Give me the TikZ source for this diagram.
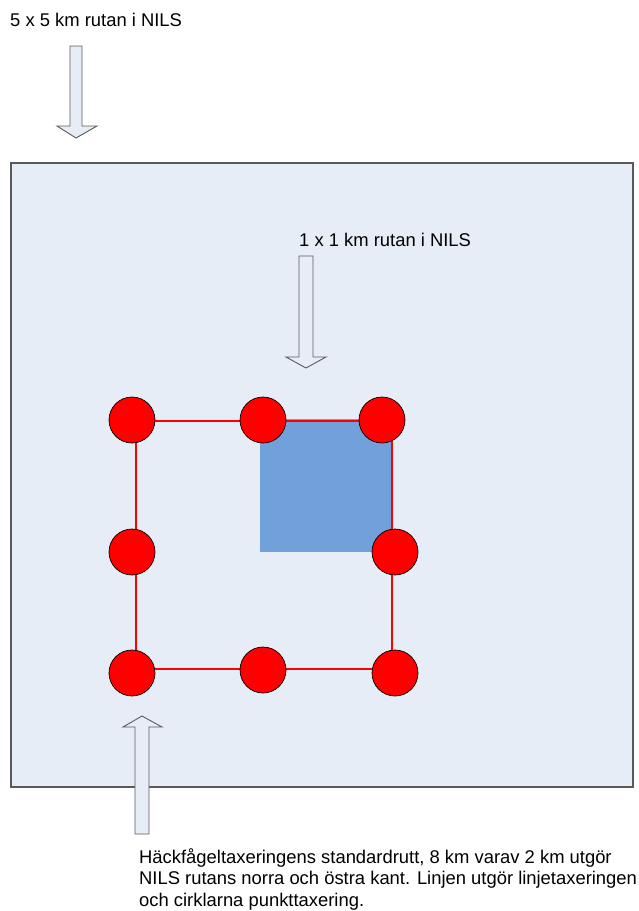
\documentclass[tikz,border=0pt]{standalone}
\usepackage{fontspec}
\setmainfont{Liberation Sans}
\usepackage{xcolor}
\definecolor{bgblue}{RGB}{231,237,247}
\definecolor{sqblue}{RGB}{114,160,218}
\definecolor{edgegray}{RGB}{90,90,90}
\tikzset{
  pil/.style={draw=edgegray,line width=0.9pt,fill=bgblue,line join=miter},
  punkt/.style={circle,draw=black,line width=0.7pt,fill=red,minimum size=46pt,inner sep=0pt},
  etikett/.style={inner sep=0pt,font=\fontsize{18.4}{21.5}\selectfont}
}
\begin{document}
\begin{tikzpicture}[x=1pt,y=-1pt]
			\useasboundingbox (0,0) rectangle (638,911);
			% 5 x 5 km ruta
			\draw[edgegray,line width=1.2pt,fill=bgblue] (11,163) rectangle (633,787);
			\fill[sqblue] (260,419) rectangle (392,552);
			% rutt
			\coordinate (r1) at (136,421);
			\coordinate (r2) at (392,421);
			\coordinate (r3) at (392,669);
			\coordinate (r4) at (136,669);
			\draw[red,line width=2pt] (r1) -- (r2) -- (r3) -- (r4) -- cycle;
			% punkter
			\node[punkt] (p1) at (132,420) {};
			\node[punkt] (p2) at (263,420) {};
			\node[punkt] (p3) at (382,420) {};
			\node[punkt] (p4) at (132,552) {};
			\node[punkt] (p5) at (395,552) {};
			\node[punkt] (p6) at (132,673) {};
			\node[punkt] (p7) at (263,670) {};
			\node[punkt] (p8) at (395,673) {};
			% pilar
			\draw[pil] (70,46) -- (82,46) -- (82,126) -- (97,126) -- (76,138) -- (57,126) -- (70,126) -- cycle;
			\draw[pil] (299,256) -- (313,256) -- (313,357) -- (326,357) -- (306,368) -- (286,357) -- (299,357) -- cycle;
			\draw[pil] (135,834) -- (149,834) -- (149,727) -- (162,727) -- (142,716) -- (123,727) -- (135,727) -- cycle;
			% texter
			\node[etikett,anchor=base west] (stor) at (10,26) {5 x 5 km rutan i NILS};
			\node[etikett,anchor=base west] (liten) at (299,246) {1 x 1 km rutan i NILS};
			\node[etikett,anchor=north west,align=left] (rutt) at (139,848) {Häckfågeltaxeringens standardrutt, 8 km varav 2 km utgör\\NILS rutans norra och östra kant. Linjen utgör linjetaxeringen\\och cirklarna punkttaxering.};
\end{tikzpicture}
\end{document}
